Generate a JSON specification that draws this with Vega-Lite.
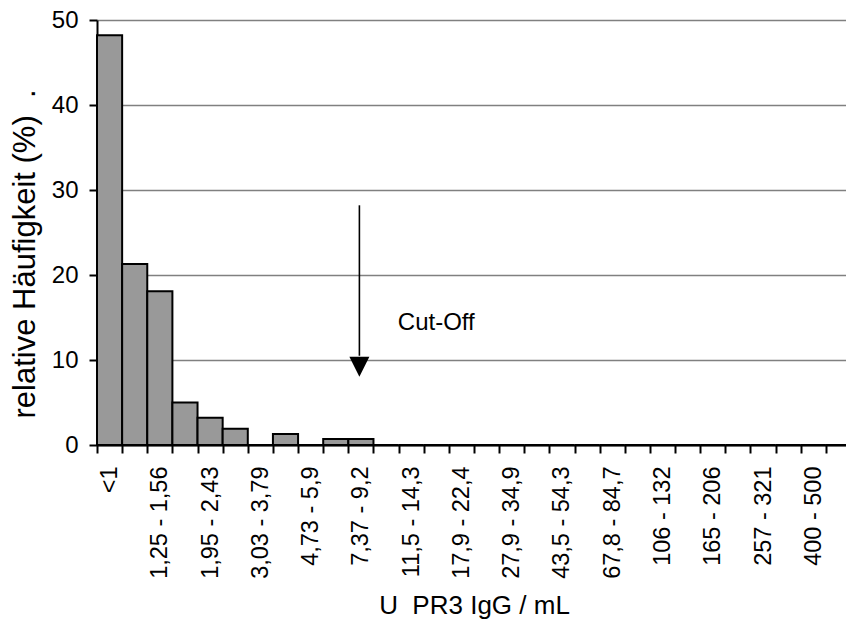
{
  "$schema": "https://vega.github.io/schema/vega-lite/v6.json",
  "autosize": "none",
  "width": 749,
  "height": 425,
  "padding": {"left": 97, "top": 20, "right": 0, "bottom": 180},
  "background": "white",
  "config": {
    "view": {"stroke": null},
    "font": "Liberation Sans",
    "axis": {"labelFont": "Liberation Sans", "titleFont": "Liberation Sans", "labelColor": "black", "titleColor": "black", "titleFontWeight": "normal"}
  },
  "datasets": {
    "bins": [
      {"klasse": "<1", "anteil": 48.2},
      {"klasse": "1 - 1,25", "anteil": 21.3},
      {"klasse": "1,25 - 1,56", "anteil": 18.1},
      {"klasse": "1,56 - 1,95", "anteil": 5.0},
      {"klasse": "1,95 - 2,43", "anteil": 3.2},
      {"klasse": "2,43 - 3,03", "anteil": 1.9},
      {"klasse": "3,03 - 3,79", "anteil": 0},
      {"klasse": "3,79 - 4,73", "anteil": 1.3},
      {"klasse": "4,73 - 5,9", "anteil": 0},
      {"klasse": "5,9 - 7,37", "anteil": 0.7},
      {"klasse": "7,37 - 9,2", "anteil": 0.7},
      {"klasse": "9,2 - 11,5", "anteil": 0},
      {"klasse": "11,5 - 14,3", "anteil": 0},
      {"klasse": "14,3 - 17,9", "anteil": 0},
      {"klasse": "17,9 - 22,4", "anteil": 0},
      {"klasse": "22,4 - 27,9", "anteil": 0},
      {"klasse": "27,9 - 34,9", "anteil": 0},
      {"klasse": "34,9 - 43,5", "anteil": 0},
      {"klasse": "43,5 - 54,3", "anteil": 0},
      {"klasse": "54,3 - 67,8", "anteil": 0},
      {"klasse": "67,8 - 84,7", "anteil": 0},
      {"klasse": "84,7 - 106", "anteil": 0},
      {"klasse": "106 - 132", "anteil": 0},
      {"klasse": "132 - 165", "anteil": 0},
      {"klasse": "165 - 206", "anteil": 0},
      {"klasse": "206 - 257", "anteil": 0},
      {"klasse": "257 - 321", "anteil": 0},
      {"klasse": "321 - 400", "anteil": 0},
      {"klasse": "400 - 500", "anteil": 0},
      {"klasse": ">500", "anteil": 0}
    ],
    "pfeil": [
      {"klasse": "7,37 - 9,2", "von": 28.2, "bis": 10.5, "spitze": 9.2}
    ],
    "notiz": [
      {"klasse": "14,3 - 17,9", "wert": 13.5, "text": "Cut-Off"}
    ]
  },
  "layer": [
    {
      "data": {"name": "bins"},
      "mark": {"type": "bar", "fill": "#999999", "stroke": "black", "strokeWidth": 2},
      "encoding": {
        "x": {
          "field": "klasse", "type": "nominal", "sort": null,
          "scale": {"paddingInner": 0, "paddingOuter": 0, "range": [0, 754]},
          "axis": {
            "title": "U\u00a0\u00a0PR3 IgG / mL",
            "titleFontSize": 26,
            "titleAlign": "center",
            "titleBaseline": "alphabetic",
            "titleX": 377,
            "titleY": 168,
            "labelAngle": -90,
            "labelFontSize": 23.5,
            "labelPadding": 13,
            "labelExpr": "indexof(['<1','1,25 - 1,56','1,95 - 2,43','3,03 - 3,79','4,73 - 5,9','7,37 - 9,2','11,5 - 14,3','17,9 - 22,4','27,9 - 34,9','43,5 - 54,3','67,8 - 84,7','106 - 132','165 - 206','257 - 321','400 - 500'], datum.value) >= 0 ? datum.label : ''",
            "tickBand": "extent",
            "tickSize": 8,
            "tickWidth": 2,
            "tickColor": "black",
            "domainColor": "black",
            "domainWidth": 2,
            "labelOverlap": false,
            "labelLimit": 0
          }
        },
        "y": {
          "field": "anteil", "type": "quantitative",
          "scale": {"domain": [0, 50], "nice": false},
          "axis": {
            "title": "relative Häufigkeit (%)\u00a0\u00a0.",
            "titleFontSize": 31,
            "titleAngle": 270,
            "titleAlign": "left",
            "titleBaseline": "alphabetic",
            "titleX": -63,
            "titleY": 398,
            "values": [0, 10, 20, 30, 40, 50],
            "labelFontSize": 24,
            "labelPadding": 11,
            "tickSize": 8,
            "tickWidth": 2,
            "tickColor": "black",
            "domainColor": "black",
            "domainWidth": 2,
            "grid": true,
            "gridColor": "#808080",
            "gridWidth": 1.3
          }
        }
      }
    },
    {
      "data": {"name": "pfeil"},
      "mark": {"type": "rule", "stroke": "black", "strokeWidth": 1.6, "xOffset": -1.5},
      "encoding": {
        "x": {"field": "klasse", "type": "nominal", "sort": null},
        "y": {"field": "von", "type": "quantitative"},
        "y2": {"field": "bis"}
      }
    },
    {
      "data": {"name": "pfeil"},
      "mark": {"type": "point", "shape": "M-1,-1L1,-1L0,1Z", "size": 400, "filled": true, "fill": "black", "stroke": null, "opacity": 1, "xOffset": -1.5},
      "encoding": {
        "x": {"field": "klasse", "type": "nominal", "sort": null},
        "y": {"field": "spitze", "type": "quantitative"}
      }
    },
    {
      "data": {"name": "notiz"},
      "mark": {"type": "text", "fontSize": 24, "font": "Liberation Sans", "align": "center", "baseline": "alphabetic", "color": "black"},
      "encoding": {
        "x": {"field": "klasse", "type": "nominal", "sort": null},
        "y": {"field": "wert", "type": "quantitative"},
        "text": {"field": "text"}
      }
    }
  ]
}
